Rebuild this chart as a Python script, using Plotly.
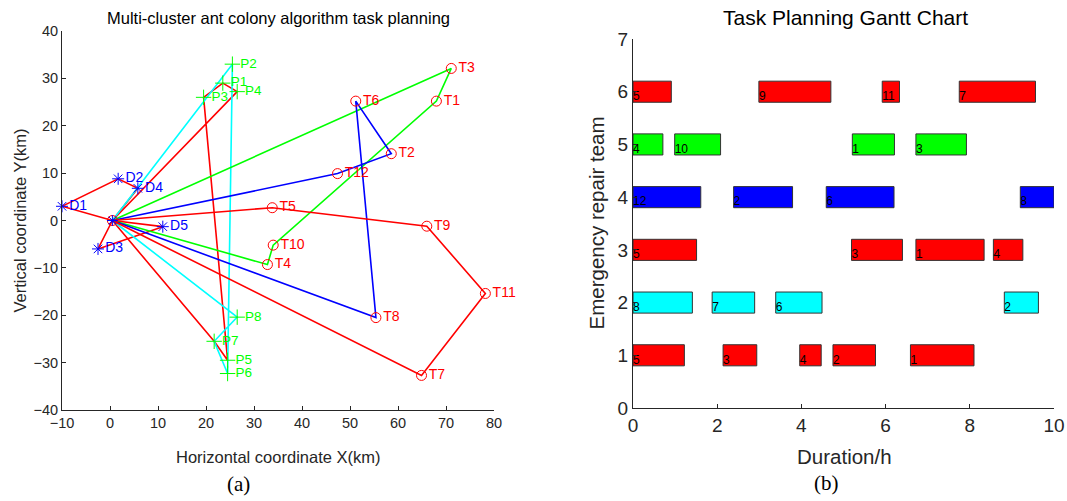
import plotly.graph_objects as go

# ---------------- Data: left plot (task planning map) ----------------
center = ("O", 0.5, 0.0)
d_names = ["D1", "D2", "D3", "D4", "D5"]
d_x = [-10.0, 1.7, -2.5, 5.8, 11.0]
d_y = [3.0, 8.8, -6.0, 6.8, -1.3]

p_names = ["P1", "P2", "P3", "P4", "P5", "P6", "P7", "P8"]
p_x = [23.5, 25.5, 19.5, 26.5, 24.5, 24.5, 21.7, 26.5]
p_y = [29.0, 33.0, 26.0, 27.2, -29.5, -32.3, -25.5, -20.4]

t_names = ["T1", "T2", "T3", "T4", "T5", "T6", "T7", "T8", "T9", "T10", "T11", "T12"]
t_x = [68.0, 58.6, 71.1, 32.8, 33.8, 51.2, 64.9, 55.4, 66.0, 34.0, 78.2, 47.4]
t_y = [25.2, 14.1, 32.1, -9.3, 2.7, 25.2, -32.7, -20.5, -1.2, -5.2, -15.4, 9.9]

routes = [
    ("#FF0000", ["O", "D1", "D2", "D4", "O"]),
    ("#FF0000", ["O", "D3", "D5", "O"]),
    ("#FF0000", ["O", "P4", "P1", "P3", "P5", "P7", "O"]),
    ("#00FFFF", ["O", "P2", "P6", "P7", "P8", "O"]),
    ("#00FF00", ["O", "T3", "T1", "T10", "T4", "O"]),
    ("#0000FF", ["O", "T12", "T2", "T6", "T8", "O"]),
    ("#FF0000", ["O", "T5", "T9", "T11", "T7", "O"]),
]

# ---------------- Data: right plot (Gantt) ----------------
teams = [6, 6, 6, 6, 5, 5, 5, 5, 4, 4, 4, 4, 3, 3, 3, 3, 2, 2, 2, 2, 1, 1, 1, 1, 1]
starts = [0.0, 2.99, 5.92, 7.75,
          0.0, 0.99, 5.21, 6.72,
          0.0, 2.39, 4.59, 9.20,
          0.0, 5.19, 6.72, 8.56,
          0.0, 1.88, 3.39, 8.82,
          0.0, 2.14, 3.96, 4.75, 6.59]
ends = [0.91, 4.70, 6.33, 9.56,
        0.71, 2.08, 6.21, 7.92,
        1.61, 3.79, 6.20, 10.0,
        1.51, 6.40, 8.34, 9.26,
        1.41, 2.89, 4.49, 9.63,
        1.22, 2.94, 4.47, 5.76, 8.10]
task_labels = ["5", "9", "11", "7",
               "4", "10", "1", "3",
               "12", "2", "6", "8",
               "5", "3", "1", "4",
               "8", "7", "6", "2",
               "5", "3", "4", "2", "1"]
team_colors = {6: "#FF0000", 5: "#00FF00", 4: "#0000FF", 3: "#FF0000", 2: "#00FFFF", 1: "#FF0000"}

# ---------------- Build figure ----------------
lookup = {"O": (center[1], center[2])}
for n, x, y in zip(d_names, d_x, d_y):
    lookup[n] = (x, y)
for n, x, y in zip(p_names, p_x, p_y):
    lookup[n] = (x, y)
for n, x, y in zip(t_names, t_x, t_y):
    lookup[n] = (x, y)

W, H = 1067, 501
fig = go.Figure()
FONT = "Liberation Sans, Arial, sans-serif"
SERIF = "Liberation Serif, Times New Roman, serif"
AX = "#262626"

for color, path in routes:
    fig.add_trace(go.Scatter(
        x=[lookup[n][0] for n in path], y=[lookup[n][1] for n in path],
        mode="lines", line=dict(color=color, width=1.6),
        xaxis="x", yaxis="y", showlegend=False, hoverinfo="skip"))

# center marker
fig.add_trace(go.Scatter(x=[center[1]], y=[center[2]], mode="markers",
                         marker=dict(symbol="circle-open", size=10, color="#FF0000", line=dict(width=1)),
                         xaxis="x", yaxis="y", showlegend=False))
fig.add_trace(go.Scatter(x=[center[1]], y=[center[2]], mode="markers",
                         marker=dict(symbol="asterisk-open", size=9, color="#0000FF", line=dict(width=1, color="#0000FF")),
                         xaxis="x", yaxis="y", showlegend=False))

fig.add_trace(go.Scatter(x=d_x, y=d_y, mode="markers+text", text=d_names,
                         textposition="middle right",
                         textfont=dict(family=FONT, size=14, color="#0000FF"),
                         marker=dict(symbol="asterisk-open", size=10, color="#0000FF",
                                     line=dict(width=1, color="#0000FF")),
                         xaxis="x", yaxis="y", showlegend=False, cliponaxis=False))
fig.add_trace(go.Scatter(x=p_x, y=p_y, mode="markers+text", text=p_names,
                         textposition="middle right",
                         textfont=dict(family=FONT, size=13.5, color="#00FF00"),
                         marker=dict(symbol="cross-thin-open", size=11, color="#00FF00",
                                     line=dict(width=1, color="#00FF00")),
                         xaxis="x", yaxis="y", showlegend=False, cliponaxis=False))
fig.add_trace(go.Scatter(x=t_x, y=t_y, mode="markers+text", text=t_names,
                         textposition="middle right",
                         textfont=dict(family=FONT, size=14, color="#FF0000"),
                         marker=dict(symbol="circle-open", size=10, color="#FF0000",
                                     line=dict(width=1, color="#FF0000")),
                         xaxis="x", yaxis="y", showlegend=False, cliponaxis=False))

# Gantt bars
durations = [e - s for s, e in zip(starts, ends)]
fig.add_trace(go.Bar(
    y=teams, x=durations, base=starts, orientation="h", width=0.4,
    marker=dict(color=[team_colors[t] for t in teams], line=dict(color="#333333", width=1)),
    xaxis="x2", yaxis="y2", showlegend=False, hoverinfo="skip"))
fig.add_trace(go.Scatter(
    x=starts, y=[t - 0.1 for t in teams], mode="text", text=task_labels,
    textposition="middle right", textfont=dict(family=FONT, size=12, color="#000000"),
    xaxis="x2", yaxis="y2", showlegend=False, hoverinfo="skip", cliponaxis=False))

axis_common = dict(showline=True, linecolor=AX, linewidth=1, ticks="inside", ticklen=4,
                   tickcolor=AX, showgrid=False, zeroline=False, mirror=False, automargin=False)

L1, R1, T1p, B1p = 62, 494, 31, 410
L2, R2, T2p, B2p = 633, 1054, 39, 408


def px(x):
    return x / W


def py(y):
    return 1 - y / H


fig.update_layout(
    width=W, height=H,
    margin=dict(l=0, r=0, t=0, b=0, autoexpand=False),
    paper_bgcolor="white", plot_bgcolor="white",
    font=dict(family=FONT, color=AX),
    hovermode=False,
    xaxis=dict(domain=[px(L1), px(R1)], range=[-10, 80], tickvals=list(range(-10, 81, 10)),
               tickfont=dict(size=14.5, color=AX), anchor="y", **axis_common),
    yaxis=dict(domain=[py(B1p), py(T1p)], range=[-40, 40], tickvals=list(range(-40, 41, 10)),
               tickfont=dict(size=14.5, color=AX), anchor="x", **axis_common),
    xaxis2=dict(domain=[px(L2), px(R2)], range=[0, 10], tickvals=list(range(0, 11, 2)),
                tickfont=dict(size=19, color=AX), anchor="y2", **axis_common),
    yaxis2=dict(domain=[py(B2p), py(T2p)], range=[0, 7], tickvals=list(range(0, 8)),
                tickfont=dict(size=19, color=AX), anchor="x2", **axis_common),
    annotations=[
        dict(text="Multi-cluster ant colony algorithm task planning", x=px(278), y=py(18),
             xref="paper", yref="paper", showarrow=False, xanchor="center", yanchor="middle",
             font=dict(family=FONT, size=16.5, color="#000000")),
        dict(text="Horizontal coordinate X(km)", x=px(278), y=py(457),
             xref="paper", yref="paper", showarrow=False, xanchor="center", yanchor="middle",
             font=dict(family=FONT, size=16.5, color=AX)),
        dict(text="Vertical coordinate Y(km)", x=px(19), y=py((T1p + B1p) / 2), textangle=-90,
             xref="paper", yref="paper", showarrow=False, xanchor="center", yanchor="middle",
             font=dict(family=FONT, size=16.5, color=AX)),
        dict(text="Task Planning Gantt Chart", x=px(845), y=py(18),
             xref="paper", yref="paper", showarrow=False, xanchor="center", yanchor="middle",
             font=dict(family=FONT, size=21, color="#000000")),
        dict(text="Duration/h", x=px(844), y=py(456),
             xref="paper", yref="paper", showarrow=False, xanchor="center", yanchor="middle",
             font=dict(family=FONT, size=20.5, color=AX)),
        dict(text="Emergency repair team", x=px(596), y=py((T2p + B2p) / 2), textangle=-90,
             xref="paper", yref="paper", showarrow=False, xanchor="center", yanchor="middle",
             font=dict(family=FONT, size=20.5, color=AX)),
        dict(text="(a)", x=px(238), y=py(484), xref="paper", yref="paper", showarrow=False,
             xanchor="center", yanchor="middle",
             font=dict(family=SERIF, size=21, color="#000000")),
        dict(text="(b)", x=px(826), y=py(483), xref="paper", yref="paper", showarrow=False,
             xanchor="center", yanchor="middle",
             font=dict(family=SERIF, size=21, color="#000000")),
    ],
)

# remove the default 8px page margin so the 1067x501 figure fills the window exactly
fig.write_html("out.html",
               config={"displayModeBar": False, "staticPlot": True},
               post_script="document.body.style.margin='0';document.body.style.overflow='hidden';")
